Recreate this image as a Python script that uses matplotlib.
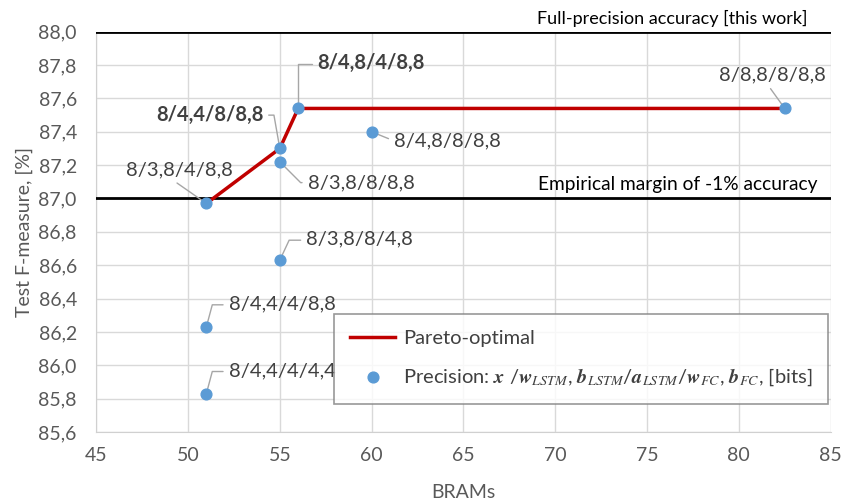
# Pareto plot: F-measure vs BRAMs for various precisions
import matplotlib
matplotlib.use("Agg")
import matplotlib.pyplot as plt

plt.rcParams['font.family'] = ['Lato', 'DejaVu Sans']
plt.rcParams['mathtext.fontset'] = 'stix'

# data points
brams = [51, 55, 55, 56, 60, 82.5, 55, 51, 51]
fmeasure = [86.97, 87.30, 87.22, 87.54, 87.40, 87.54, 86.63, 86.23, 85.83]
labels = ['8/3,8/4/8,8', '8/4,4/8/8,8', '8/3,8/8/8,8', '8/4,8/4/8,8',
          '8/4,8/8/8,8', '8/8,8/8/8,8', '8/3,8/8/4,8', '8/4,4/4/8,8',
          '8/4,4/4/4,4']
bold = [False, True, False, True, False, False, False, False, False]

# pareto front
pareto_x = [51, 55, 56, 82.5]
pareto_y = [86.97, 87.30, 87.54, 87.54]

full_precision = 88.0
margin = 87.0

# label placement: offset in points, alignment, leader start (relpos), connection
offsets = [(19, 24), (-12, 24), (20, -15), (14, 33), (16, -6.5),
           (-9, 24), (19, 15), (16, 16.5), (16, 16.5)]
aligns = ['right', 'right', 'left', 'left', 'left', 'center', 'left', 'left', 'left']
relpos = [(0.42, 0.0), (1.0, 0.5), (0.0, 0.5), (0.0, 0.45), (0.0, 0.5),
          (0.45, 0.0), (0.0, 0.45), (0.0, 0.45), (0.0, 0.45)]
conns = ['arc3', 'angle,angleA=0,angleB=100,rad=0', 'angle,angleA=0,angleB=-45,rad=0',
         'angle,angleA=0,angleB=90,rad=0', 'arc3', 'arc3',
         'angle,angleA=0,angleB=65,rad=0', 'angle,angleA=0,angleB=75,rad=0',
         'angle,angleA=0,angleB=75,rad=0']

fig, ax = plt.subplots(figsize=(8.59, 5.04), dpi=100)
fig.subplots_adjust(left=0.112, right=0.967, top=0.937, bottom=0.143)

ax.set_xlim(45, 85)
ax.set_ylim(85.6, 88.0)
ax.set_xticks(range(45, 86, 5))
yt = [85.6 + 0.2 * i for i in range(13)]
ax.set_yticks(yt)
ax.set_yticklabels([f'{v:.1f}'.replace('.', ',') for v in yt])
ax.grid(True, color='#d9d9d9', linewidth=1)
ax.set_axisbelow(True)
for side in ['top', 'right']:
    ax.spines[side].set_visible(False)
for side in ['left', 'bottom']:
    ax.spines[side].set_color('#d0d0d0')
ax.tick_params(axis='y', length=0, labelsize=14, colors='#595959', pad=14)
ax.tick_params(axis='x', length=0, labelsize=14, colors='#595959', pad=11)

ax.axhline(full_precision, color='black', linewidth=2, zorder=3)
ax.axhline(margin, color='black', linewidth=2, zorder=3)
ax.text(83.75, full_precision + 0.03, 'Full-precision accuracy [this work]',
        ha='right', va='bottom', fontsize=13, color='black')
ax.text(84.3, margin + 0.03, 'Empirical margin of -1% accuracy',
        ha='right', va='bottom', fontsize=13.8, color='black')

ax.plot(pareto_x, pareto_y, color='#c00000', linewidth=2.5, zorder=4,
        label='Pareto-optimal')
ax.scatter(brams, fmeasure, s=60, color='#5b9bd5', zorder=5,
           label=r'Precision: $\mathbfit{x}$ /$\mathbfit{w}_{\mathit{LSTM}}$, '
                 r'$\mathbfit{b}_{\mathit{LSTM}}$/$\mathbfit{a}_{\mathit{LSTM}}$/'
                 r'$\mathbfit{w}_{\mathit{FC}}$, $\mathbfit{b}_{\mathit{FC}}$, [bits]')

for i in range(len(brams)):
    ax.annotate(labels[i], xy=(brams[i], fmeasure[i]), xytext=offsets[i],
                textcoords='offset points', ha=aligns[i], va='center',
                fontsize=14.5, color='#404040',
                fontweight='bold' if bold[i] else 'normal',
                arrowprops=dict(arrowstyle='-', color='#a6a6a6', lw=1,
                                shrinkA=2, shrinkB=3, relpos=relpos[i],
                                connectionstyle=conns[i]))

leg = ax.legend(loc='lower right', bbox_to_anchor=(0.997, 0.07), fontsize=14.5,
                frameon=True, fancybox=False, edgecolor='#7f7f7f',
                labelcolor='#404040', handlelength=2.2, handletextpad=0.4,
                borderpad=0.8, labelspacing=0.95, borderaxespad=0)
leg.get_frame().set_linewidth(1.2)

ax.set_xlabel('BRAMs', fontsize=14, color='#595959', labelpad=14)
ax.set_ylabel('Test F-measure, [%]', fontsize=14, color='#595959', labelpad=4)

fig.savefig('out.png', dpi=100)
